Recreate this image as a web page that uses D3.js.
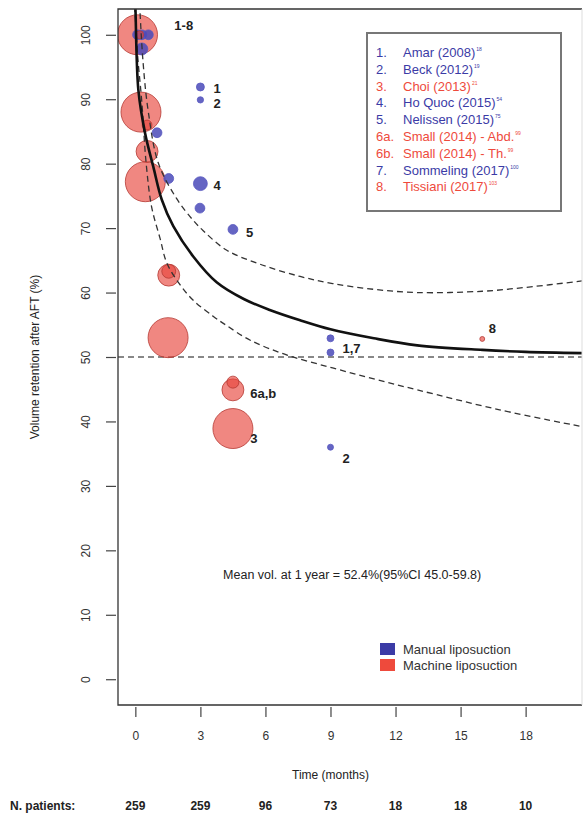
<!DOCTYPE html>
<html>
<head>
<meta charset="utf-8">
<script src="https://cdn.jsdelivr.net/npm/d3@7"></script>
<style>
  body { margin: 0; background: #fff; }
  text { font-family: "Liberation Sans", Arial, sans-serif; }
</style>
</head>
<body>
<div id="chart"></div>
<script>
// ---- data ----
const xTicks = [0, 3, 6, 9, 12, 15, 18];
const yTicks = [0, 10, 20, 30, 40, 50, 60, 70, 80, 90, 100];
const nPatients = [259, 259, 96, 73, 18, 18, 10];

// [month, volume %, study size]
const machinePts = [
    [0.1, 100, 100], [0.26, 88, 100], [0.46, 77.2, 100], [0.54, 81.9, 30],
    [1.51, 53, 100], [1.54, 62.7, 30], [1.54, 63.3, 12],
    [4.5, 38.9, 100], [4.5, 44.9, 30], [4.5, 46.1, 9],
    [0.2, 100, 4], [0.54, 86, 6], [16, 52.8, 1.5]
];
const manualPts = [
    [0.1, 100, 6], [0.3, 100, 6], [0.6, 100, 6], [0.3, 97.8, 9],
    [1.0, 84.8, 6], [1.54, 77.7, 6], [3, 76.9, 12], [3, 91.9, 4],
    [3, 89.9, 2.5], [2.98, 73.1, 6], [4.5, 69.8, 6],
    [9, 52.9, 3], [9, 50.7, 3], [9, 36, 2.25]
];

// fitted mean curve and 95% CI
const meanCurve = [[-0.05, 108], [0, 104.5], [0.14, 91.4], [0.45, 84.7], [0.83, 79.5],
    [1.22, 74.4], [1.75, 70.3], [2.67, 65.6], [3.75, 61.6], [5, 59], [6.2, 57.3],
    [7.6, 55.7], [9, 54.3], [11, 52.9], [13, 51.8], [16, 51.1], [18, 50.8], [20.6, 50.6]];
const upperCI = [[0.15, 108], [0.35, 96], [0.6, 88], [1.06, 80.1], [1.9, 74.6],
    [2.67, 71.2], [3.13, 69.6], [4.2, 66.6], [5.75, 64.4], [7.6, 62.5], [9.1, 61.4],
    [11, 60.5], [13, 60], [16, 60.2], [18, 60.8], [20.6, 61.8]];
const lowerCI = [[-0.05, 106], [0.1, 97], [0.29, 89.9], [0.5, 80], [0.75, 73.3],
    [1.14, 68.4], [1.45, 64.6], [2, 61.5], [2.67, 58.8], [3.6, 56.3], [4.2, 54.9],
    [5.3, 52.6], [7, 50.3], [9.1, 48.3], [11, 46.6], [13, 44.9], [16.8, 41.8], [20.6, 39.2]];

const refLine = 50;

const studies = [
    ["1.", "Amar (2008)", "18", "manual"],
    ["2.", "Beck (2012)", "19", "manual"],
    ["3.", "Choi (2013)", "21", "machine"],
    ["4.", "Ho Quoc (2015)", "54", "manual"],
    ["5.", "Nelissen (2015)", "75", "manual"],
    ["6a.", "Small (2014) - Abd.", "99", "machine"],
    ["6b.", "Small (2014) - Th.", "99", "machine"],
    ["7.", "Sommeling (2017)", "100", "manual"],
    ["8.", "Tissiani (2017)", "103", "machine"]
];
// point labels: [month, value, text]
const pointLabels = [
    [1.8, 101.5, "1-8"], [3.6, 91.6, "1"], [3.6, 89.4, "2"], [3.6, 76.6, "4"],
    [5.1, 69.3, "5"], [9.55, 51.3, "1,7"], [5.3, 44.4, "6a,b"], [5.3, 37.3, "3"],
    [9.55, 34.2, "2"], [16.3, 54.4, "8"]
];

const W = 583, H = 818;
const plot = { left: 118, right: 582, top: 9, bottom: 705 };

const svg = d3.select("#chart").append("svg")
    .attr("width", W).attr("height", H);

const x = d3.scaleLinear().domain([-0.8, 20.6]).range([plot.left, plot.right]);
const y = d3.scaleLinear().domain([-4, 104]).range([plot.bottom, plot.top]);
const r = d3.scaleSqrt().domain([0, 100]).range([0, 20]);

const colManual = "#3b3ba6", colMachine = "#ee4a3c";

svg.append("clipPath").attr("id", "clip")
    .append("rect")
    .attr("x", plot.left).attr("y", plot.top)
    .attr("width", plot.right - plot.left).attr("height", plot.bottom - plot.top);

// axes
const xAxis = svg.append("g")
    .attr("transform", "translate(0," + (plot.bottom + 2) + ")")
    .call(d3.axisBottom(x).tickValues(xTicks).tickSize(10).tickPadding(14));
const yAxis = svg.append("g")
    .attr("transform", "translate(" + (plot.left - 2) + ",0)")
    .call(d3.axisLeft(y).tickValues(yTicks).tickSize(10));
[xAxis, yAxis].forEach(function (a) {
    a.select(".domain").remove();
    a.selectAll("line").attr("stroke", "#444").attr("stroke-width", 1.2);
    a.selectAll("text").attr("fill", "#333").style("font-size", "12px")
        .style("font-family", "'Liberation Sans', Arial, sans-serif");
});
// R style: rotated y tick labels
yAxis.selectAll("text")
    .attr("x", null).attr("dy", null)
    .attr("text-anchor", "middle")
    .attr("transform", "translate(-26,0) rotate(-90)");

svg.append("text")
    .attr("transform", "translate(39," + y(50) + ") rotate(-90)")
    .attr("text-anchor", "middle").attr("fill", "#222")
    .style("font-size", "12px")
    .text("Volume retention after AFT (%)");

svg.append("text")
    .attr("x", x(9)).attr("y", 779)
    .attr("text-anchor", "middle").attr("fill", "#222")
    .style("font-size", "12px")
    .text("Time (months)");

svg.append("text")
    .attr("x", 10).attr("y", 810)
    .attr("fill", "#222").style("font-size", "12px").style("font-weight", "bold")
    .text("N. patients:");
svg.selectAll(".npat")
    .data(nPatients)
    .enter().append("text")
    .attr("class", "npat")
    .attr("x", function (d, i) { return x(xTicks[i]); })
    .attr("y", 810)
    .attr("text-anchor", "middle").attr("fill", "#222")
    .style("font-size", "12px").style("font-weight", "bold")
    .text(function (d) { return d; });

const g = svg.append("g").attr("clip-path", "url(#clip)");

// reference line at 50%
g.append("line")
    .attr("x1", plot.left).attr("x2", plot.right)
    .attr("y1", y(refLine)).attr("y2", y(refLine))
    .attr("stroke", "#888").attr("stroke-width", 1.8)
    .attr("stroke-dasharray", "6,4");

const line = d3.line()
    .x(function (d) { return x(d[0]); })
    .y(function (d) { return y(d[1]); })
    .curve(d3.curveCatmullRom.alpha(0.5));

// points, big ones first
const allPts = machinePts.map(function (d) { return { t: d[0], v: d[1], n: d[2], type: "machine" }; })
    .concat(manualPts.map(function (d) { return { t: d[0], v: d[1], n: d[2], type: "manual" }; }))
    .sort(function (a, b) { return b.n - a.n; });

g.selectAll(".pt")
    .data(allPts)
    .enter().append("circle")
    .attr("class", "pt")
    .attr("cx", function (d) { return x(d.t); })
    .attr("cy", function (d) { return y(d.v); })
    .attr("r", function (d) { return r(d.n); })
    .attr("fill", function (d) { return d.type === "manual" ? "#4a4ab8" : "#e8463e"; })
    .attr("fill-opacity", function (d) { return d.type === "manual" ? 0.85 : 0.65; })
    .attr("stroke", function (d) { return d.type === "manual" ? "#5858c0" : "#b53a34"; })
    .attr("stroke-width", 0.8);

[upperCI, lowerCI].forEach(function (c) {
    g.append("path").datum(c)
        .attr("d", line)
        .attr("fill", "none").attr("stroke", "#333")
        .attr("stroke-width", 1.3).attr("stroke-dasharray", "6,4");
});

g.append("path").datum(meanCurve)
    .attr("d", line)
    .attr("fill", "none").attr("stroke", "#111").attr("stroke-width", 2.6);

// point labels
svg.selectAll(".plab")
    .data(pointLabels)
    .enter().append("text")
    .attr("class", "plab")
    .attr("x", function (d) { return x(d[0]); })
    .attr("y", function (d) { return y(d[1]); })
    .attr("dy", "0.35em")
    .attr("fill", "#222").style("font-size", "13px").style("font-weight", "bold")
    .text(function (d) { return d[2]; });

// mean annotation
svg.append("text")
    .attr("x", x(10)).attr("y", 579)
    .attr("text-anchor", "middle").attr("fill", "#222")
    .style("font-size", "12.5px")
    .text("Mean vol. at 1 year = 52.4%(95%CI 45.0-59.8)");

// plot frame
svg.append("path")
    .attr("d", "M" + plot.right + "," + plot.top + "H" + plot.left + "V" + plot.bottom + "H" + plot.right)
    .attr("fill", "none").attr("stroke", "#333").attr("stroke-width", 1.3);
svg.append("line")
    .attr("x1", plot.right).attr("x2", plot.right)
    .attr("y1", plot.top).attr("y2", plot.bottom)
    .attr("stroke", "#ddd").attr("stroke-width", 1);

// study legend
const leg = svg.append("g");
leg.append("rect")
    .attr("x", 367).attr("y", 33).attr("width", 194).attr("height", 178)
    .attr("fill", "#fff").attr("stroke", "#777").attr("stroke-width", 2);
const rows = leg.selectAll(".lrow")
    .data(studies)
    .enter().append("text")
    .attr("class", "lrow")
    .attr("y", function (d, i) { return 57 + i * 16.8; })
    .attr("fill", function (d) { return d[3] === "manual" ? colManual : colMachine; })
    .style("font-size", "13px");
rows.append("tspan").attr("x", 376).text(function (d) { return d[0]; });
rows.append("tspan").attr("x", 403).text(function (d) { return d[1]; });
rows.append("tspan").attr("dy", "-6").attr("dx", "1").style("font-size", "5px")
    .text(function (d) { return d[2]; });

// type legend
const types = [["Manual liposuction", colManual], ["Machine liposuction", colMachine]];
const tl = svg.selectAll(".tleg")
    .data(types)
    .enter().append("g")
    .attr("class", "tleg")
    .attr("transform", function (d, i) { return "translate(380," + (643 + i * 16) + ")"; });
tl.append("rect").attr("width", 15).attr("height", 12)
    .attr("fill", function (d) { return d[1]; });
tl.append("text").attr("x", 23).attr("y", 11)
    .attr("fill", "#333").style("font-size", "13px")
    .text(function (d) { return d[0]; });
</script>
</body>
</html>
